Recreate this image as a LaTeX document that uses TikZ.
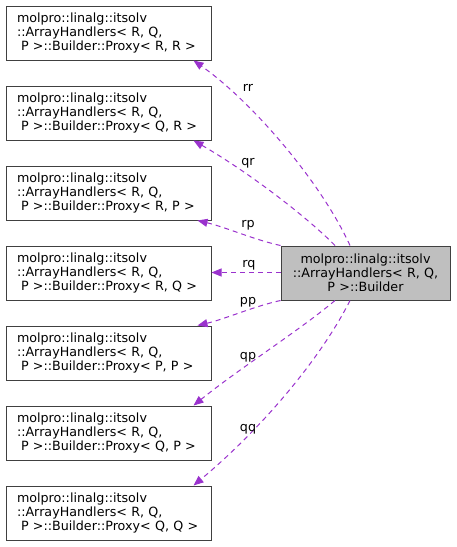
\documentclass[tikz,border=0pt]{standalone}
\usepackage{fontspec}
\setmainfont{DejaVu Sans}
\usetikzlibrary{arrows.meta}
\definecolor{edgecol}{HTML}{9A32CD}
\definecolor{boxline}{HTML}{404040}
\definecolor{boxfill}{HTML}{BFBFBF}
\tikzset{
  txt/.style={font=\fontsize{12.7}{14}\selectfont},
  proxy/.style={txt, draw=boxline, line width=1pt, fill=white, minimum width=205pt,
    minimum height=54pt, text width=183pt, align=left, inner xsep=11pt, inner ysep=0pt},
  bld/.style={txt, draw=boxline, line width=1pt, fill=boxfill, minimum width=169pt,
    minimum height=54pt, text width=155pt, align=center, inner xsep=7pt, inner ysep=0pt},
  edge/.style={draw=edgecol, line width=1pt, dash pattern=on 5pt off 4pt,
    -{Triangle[length=10pt,width=8pt,fill=edgecol]}},
  lbl/.style={txt, inner sep=0pt}
}
\newcommand{\proxytext}[2]{molpro::linalg::itsolv\\::ArrayHandlers< R, Q,\\\hspace*{4pt}P >::Builder::Proxy< #1, #2 >}
\begin{document}
\begin{tikzpicture}[x=1pt,y=-1pt]
\useasboundingbox (0,0) rectangle (456,547);
\node[proxy] (rr) at (108.5,33) {\proxytext{R}{R}};
\node[proxy] (qr) at (108.5,113) {\proxytext{Q}{R}};
\node[proxy] (rp) at (108.5,193) {\proxytext{R}{P}};
\node[proxy] (rq) at (108.5,273) {\proxytext{R}{Q}};
\node[proxy] (pp) at (108.5,353) {\proxytext{P}{P}};
\node[proxy] (qp) at (108.5,433) {\proxytext{Q}{P}};
\node[proxy] (qq) at (108.5,513) {\proxytext{Q}{Q}};
\node[bld] (builder) at (365.5,273) {molpro::linalg::itsolv\\::ArrayHandlers< R, Q,\\P >::Builder};
\draw[edge] ([xshift=-15.5pt]builder.north) .. controls (320,180) and (250,100) .. ([xshift=-18pt]rr.south east);
\draw[edge] ([xshift=-30.5pt]builder.north) .. controls (305,215) and (245,170) .. ([xshift=-18pt]qr.south east);
\draw[edge] (builder.north west) .. controls (255,240) and (225,227) .. ([xshift=-14pt]rp.south east);
\draw[edge] ([yshift=0.5pt]builder.west) -- ([yshift=0.5pt]rq.east);
\draw[edge] (builder.south west) .. controls (255,306) and (225,319) .. ([xshift=-14pt]pp.north east);
\draw[edge] ([xshift=-30.5pt]builder.south) .. controls (300,330) and (240,368) .. ([xshift=-18pt]qp.north east);
\draw[edge] ([xshift=-15.5pt]builder.south) .. controls (320,360) and (260,430) .. ([xshift=-18pt]qq.north east);
\node[lbl] (lrr) at (248,88) {rr};
\node[lbl] (lqr) at (248,163) {qr};
\node[lbl] (lrp) at (248,225) {rp};
\node[lbl] (lrq) at (249,265) {rq};
\node[lbl] (lpp) at (248,302) {pp};
\node[lbl] (lqp) at (248,357) {qp};
\node[lbl] (lqq) at (248,429) {qq};
\end{tikzpicture}
\end{document}
